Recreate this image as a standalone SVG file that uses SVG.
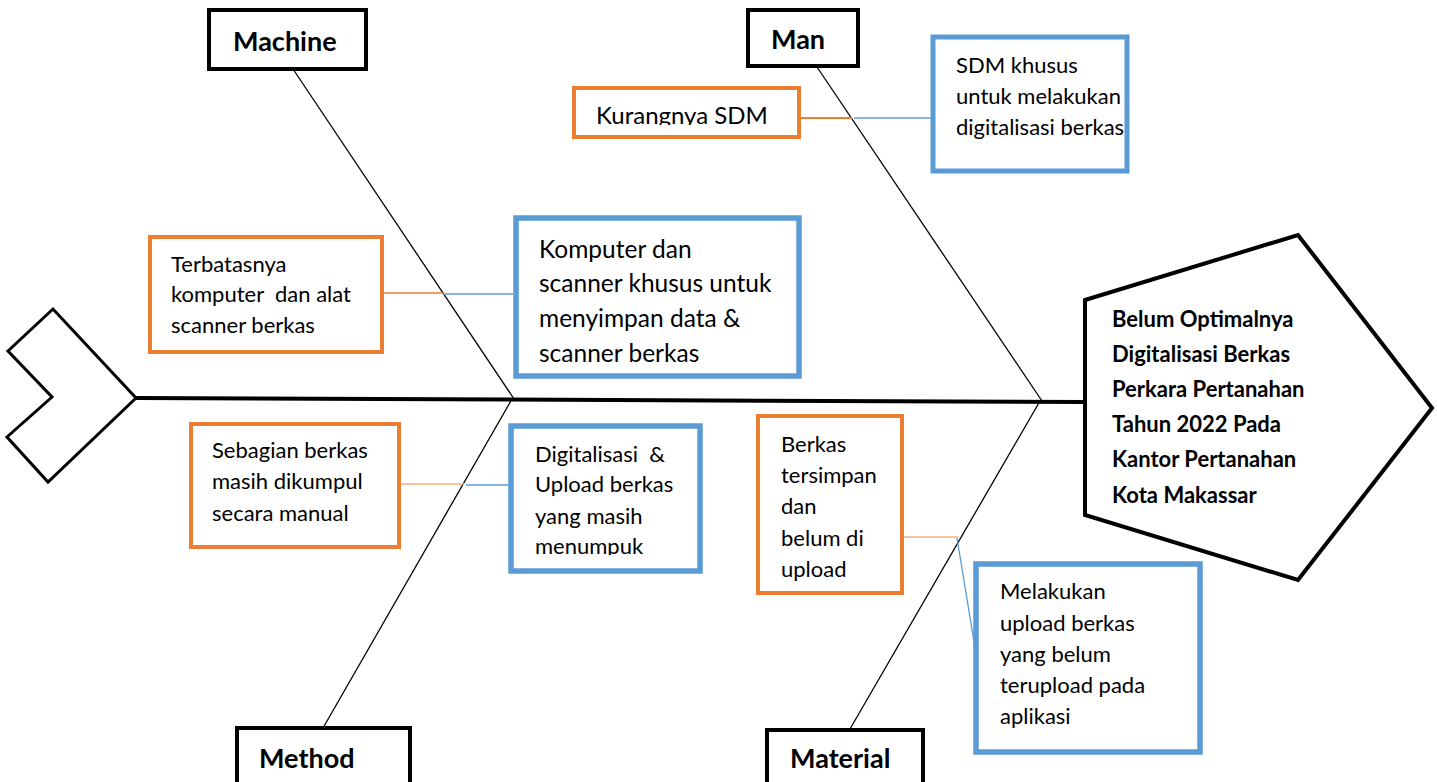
<svg xmlns="http://www.w3.org/2000/svg" width="1437" height="782" viewBox="0 0 1437 782">
<style>
.blk{fill:#fff;stroke:#000;stroke-width:4}
.org{fill:#fff;stroke:#ED7D31;stroke-width:4}
.blu{fill:#fff;stroke:#5B9BD5;stroke-width:5.5}
.bone{stroke:#000;stroke-width:1.3;fill:none}
.oc{stroke:#ED7D31;stroke-width:1.5;fill:none}
.bc{stroke:#5B9BD5;stroke-width:1.3;fill:none}
.lab{font-family:Lato,"Liberation Sans",sans-serif;font-weight:bold;font-size:27px;fill:#000}
.t{font-family:Lato,"Liberation Sans",sans-serif;font-size:22px;fill:#000}
.t2{font-family:Lato,"Liberation Sans",sans-serif;font-size:24.5px;fill:#000}
.hd{font-family:Lato,"Liberation Sans",sans-serif;font-weight:bold;font-size:22px;fill:#000}
</style>
<defs>
<clipPath id="clipK"><rect x="576" y="90" width="221" height="35"/></clipPath>
<clipPath id="clipD"><rect x="514" y="429" width="183" height="126"/></clipPath>
</defs>
<rect width="1437" height="782" fill="#fff"/>
<g id="connectors">
<line class="bone" x1="136" y1="398" x2="1085" y2="402" style="stroke-width:4"/>
<line class="bone" x1="293" y1="69" x2="514" y2="399"/>
<line class="bone" x1="512" y1="399" x2="323" y2="728"/>
<line class="bone" x1="817" y1="67" x2="1042" y2="401"/>
<line class="bone" x1="1040" y1="401" x2="850" y2="729"/>
<line class="oc" x1="382" y1="293" x2="443" y2="293"/>
<line class="bc" x1="443" y1="294" x2="513" y2="294"/>
<line class="oc" x1="799" y1="118" x2="852" y2="118" style="stroke-width:2"/>
<line class="bc" x1="854" y1="118" x2="932" y2="118"/>
<line class="oc" x1="399" y1="484" x2="464" y2="484" style="stroke:#F4B183"/>
<line class="bc" x1="466" y1="485" x2="510" y2="485"/>
<line class="oc" x1="902" y1="537" x2="958" y2="537" style="stroke:#F4B183"/>
<line class="bc" x1="957" y1="538" x2="975" y2="648"/>
</g>
<g id="tail"><polygon points="53,309 8,351 52,397 7,437 48,482 136,398" fill="#fff" stroke="#000" stroke-width="3"/></g>
<g id="head">
<polygon points="1085,300 1298,235 1432,408 1298,580 1085,515" fill="#fff" stroke="#000" stroke-width="4"/>
<text class="hd" x="1112" y="327">Belum Optimalnya</text>
<text class="hd" x="1112" y="362">Digitalisasi Berkas</text>
<text class="hd" x="1112" y="397">Perkara Pertanahan</text>
<text class="hd" x="1112" y="432">Tahun 2022 Pada</text>
<text class="hd" x="1112" y="467">Kantor Pertanahan</text>
<text class="hd" x="1112" y="503">Kota Makassar</text>
</g>
<g id="machine"><rect class="blk" x="209" y="10" width="157" height="59"/><text class="lab" x="233" y="51">Machine</text></g>
<g id="man"><rect class="blk" x="748" y="10" width="110" height="56"/><text class="lab" x="771" y="49">Man</text></g>
<g id="method"><rect class="blk" x="237" y="728" width="173" height="80"/><text class="lab" x="259" y="768">Method</text></g>
<g id="material"><rect class="blk" x="767" y="730" width="156" height="80"/><text class="lab" x="790" y="768">Material</text></g>
<g id="terbatasnya"><rect class="org" x="150" y="237" width="232" height="115"/>
<text class="t" x="171" y="272">Terbatasnya</text>
<text class="t" x="171" y="302" xml:space="preserve">komputer  dan alat</text>
<text class="t" x="171" y="333">scanner berkas</text></g>
<g id="komputer"><rect class="blu" x="516" y="218" width="283" height="158"/>
<text class="t2" x="539" y="258">Komputer dan</text>
<text class="t2" x="539" y="292">scanner khusus untuk</text>
<text class="t2" x="539" y="327">menyimpan data &amp;</text>
<text class="t2" x="539" y="362">scanner berkas</text></g>
<g id="kurangnya"><rect class="org" x="574" y="88" width="225" height="49"/>
<text class="t2" x="596" y="124" clip-path="url(#clipK)" style="font-size:24px">Kurangnya SDM</text></g>
<g id="sdm"><rect class="blu" x="933" y="37" width="194" height="134" style="stroke-width:5"/>
<text class="t" x="956" y="73">SDM khusus</text>
<text class="t" x="956" y="104">untuk melakukan</text>
<text class="t" x="956" y="135">digitalisasi berkas</text></g>
<g id="sebagian"><rect class="org" x="191" y="424" width="208" height="123"/>
<text class="t" x="212" y="458">Sebagian berkas</text>
<text class="t" x="212" y="489">masih dikumpul</text>
<text class="t" x="212" y="521">secara manual</text></g>
<g id="digitalisasi"><rect class="blu" x="511" y="426" width="189" height="145"/>
<g clip-path="url(#clipD)">
<text class="t" x="535" y="462" xml:space="preserve">Digitalisasi  &amp;</text>
<text class="t" x="535" y="492">Upload berkas</text>
<text class="t" x="535" y="524">yang masih</text>
<text class="t" x="535" y="554">menumpuk</text></g></g>
<g id="berkas"><rect class="org" x="758" y="416" width="144" height="177"/>
<text class="t" x="781" y="452">Berkas</text>
<text class="t" x="781" y="483">tersimpan</text>
<text class="t" x="781" y="514">dan</text>
<text class="t" x="781" y="546">belum di</text>
<text class="t" x="781" y="577">upload</text></g>
<g id="melakukan"><rect class="blu" x="976" y="564" width="224" height="188"/>
<text class="t" x="1000" y="599">Melakukan</text>
<text class="t" x="1000" y="631">upload berkas</text>
<text class="t" x="1000" y="662">yang belum</text>
<text class="t" x="1000" y="693">terupload pada</text>
<text class="t" x="1000" y="724">aplikasi</text></g>
</svg>
